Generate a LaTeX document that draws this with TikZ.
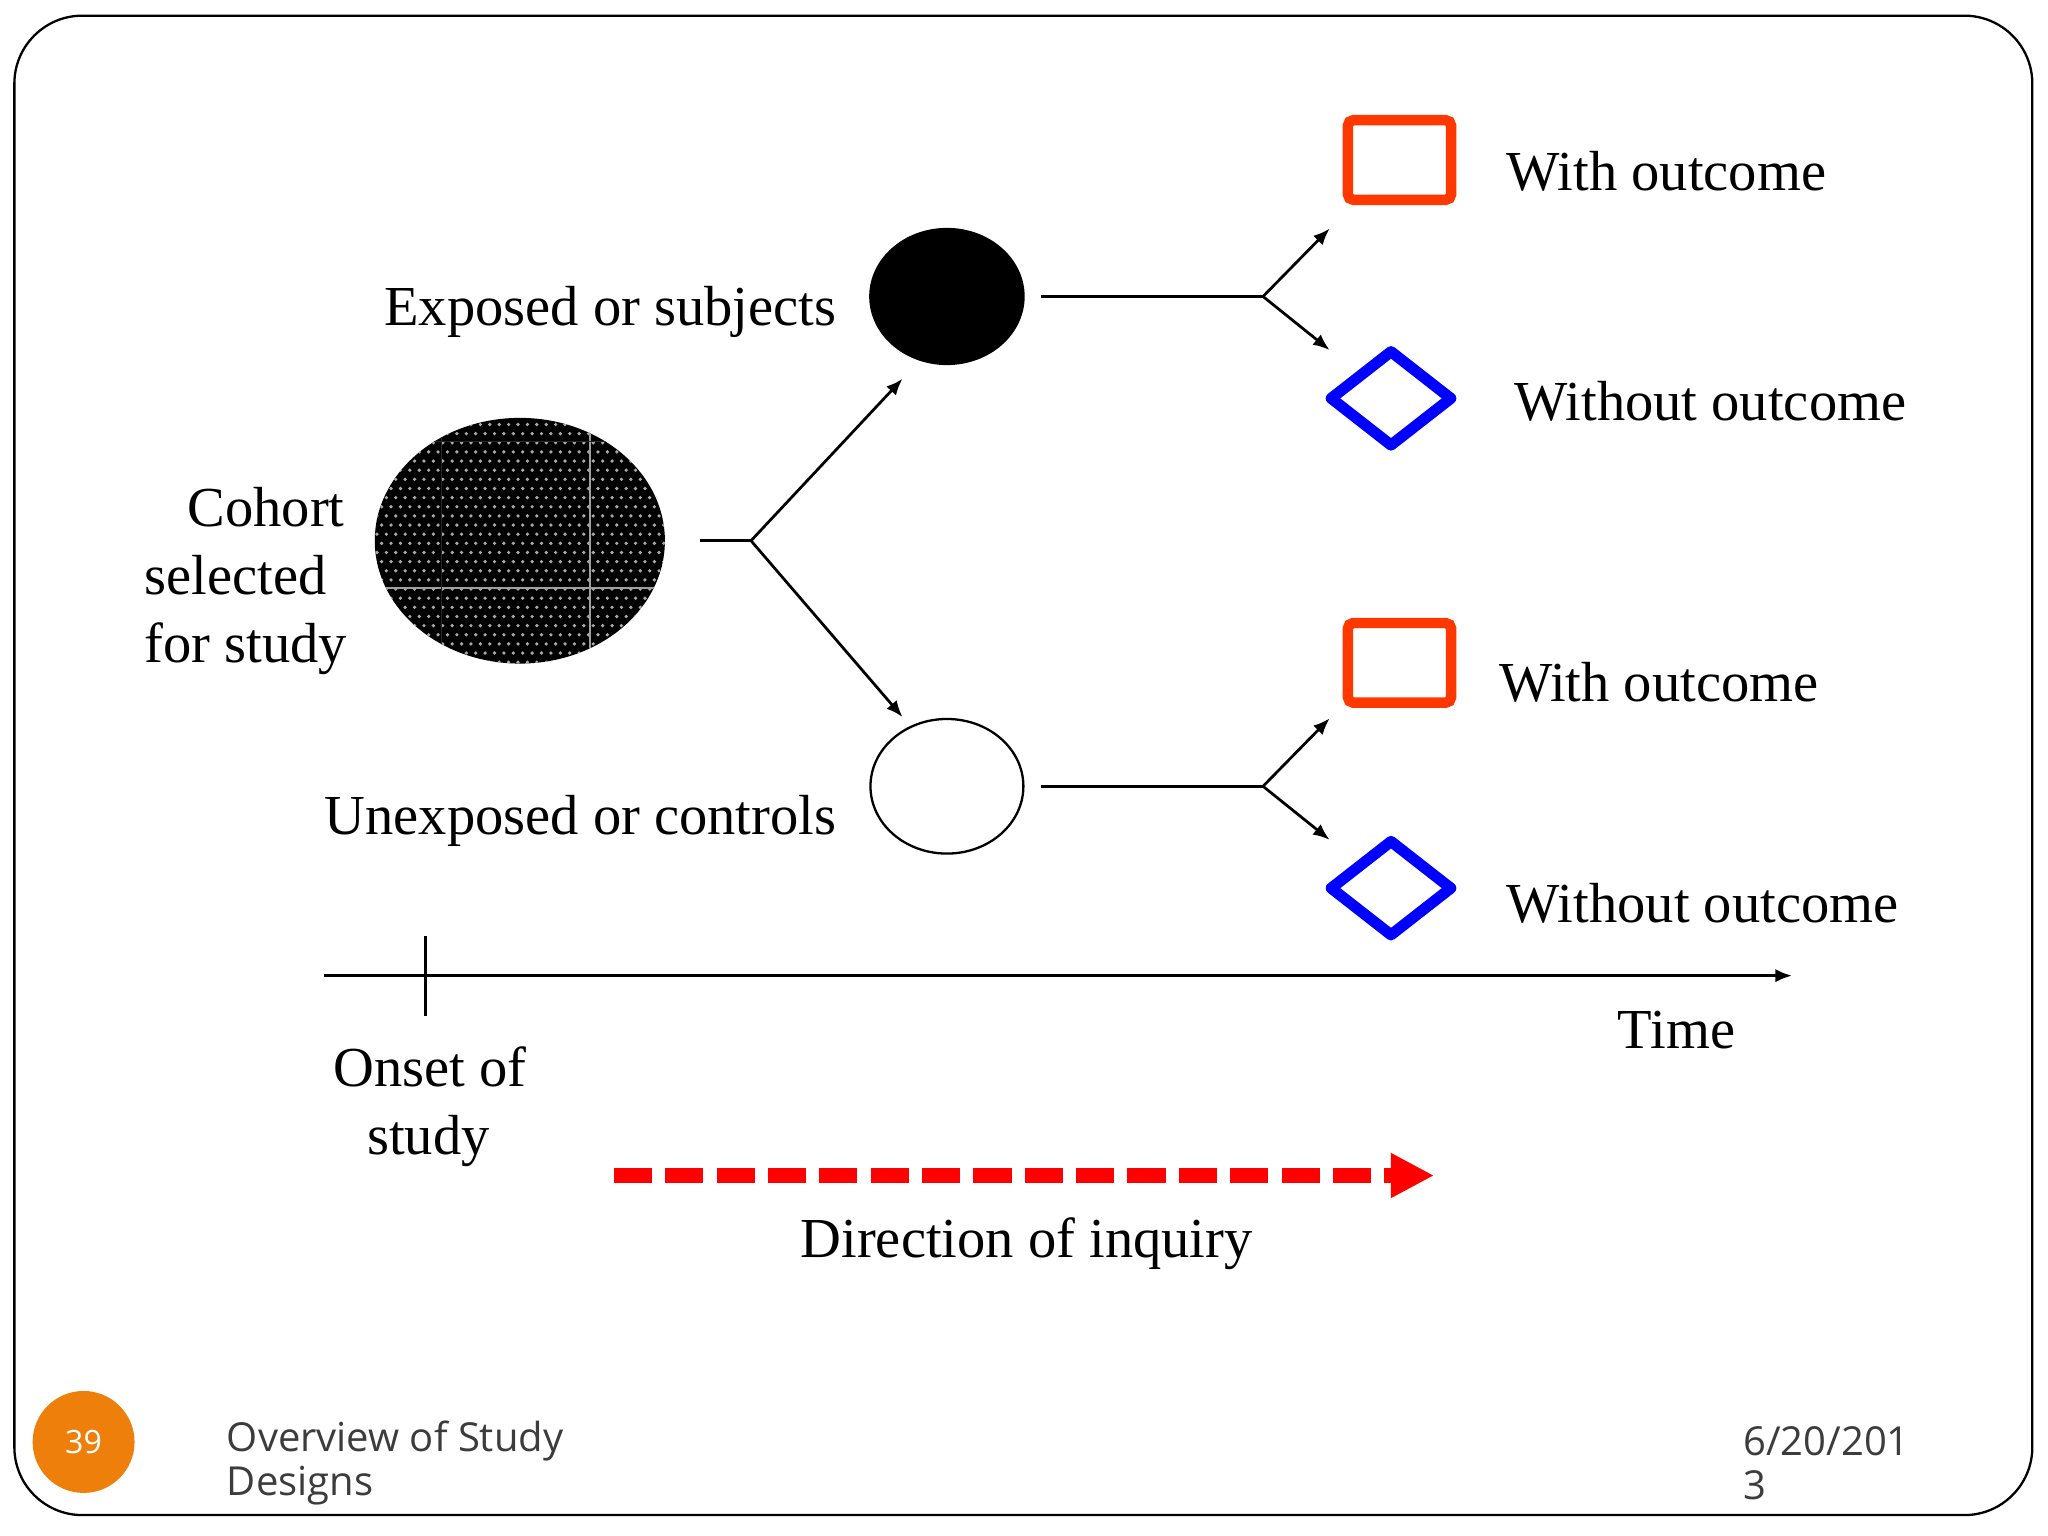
\documentclass[tikz,border=0pt]{standalone}
\usepackage{fontspec}
\setmainfont{Liberation Serif}
\newfontfamily\footfont{Open Sans}
\usetikzlibrary{arrows.meta,shapes.geometric}
\definecolor{boxred}{RGB}{255,56,0}
\definecolor{diablue}{RGB}{0,0,255}
\definecolor{slideorange}{RGB}{238,127,10}
\definecolor{foottext}{RGB}{60,60,60}
\definecolor{dotgray}{RGB}{170,170,170}
\begin{document}
\begin{tikzpicture}[x=0.01cm,y=-0.01cm,
  lbl/.style={font=\fontsize{12.3}{14.75}\selectfont, inner sep=0pt, anchor=base west},
  plainline/.style={line width=0.6pt},
  conn/.style={line width=0.6pt, -{Latex[length=3.6pt,width=2.9pt]}},
  outbox/.style={draw=boxred, line width=0.08cm, rectangle, rounded corners=1.2pt, minimum width=0.79cm, minimum height=0.61cm, inner sep=0pt},
  outdia/.style={draw=diablue, line width=0.085cm, diamond, line join=round, minimum width=0.95cm, minimum height=0.75cm, inner sep=0pt},
  foot/.style={font=\footfont\fontsize{8.7}{9.67}\selectfont, text=foottext, inner sep=0pt, anchor=base west, align=left}]
\useasboundingbox (0,0) rectangle (1568,1176);
\fill[white] (0,0) rectangle (1568,1176);
% slide frame
\draw[line width=0.5pt, rounded corners=0.52cm] (11,12) rectangle (1556,1160);

% cohort ellipse with dot texture
\node (cohort) [ellipse, fill=black, minimum width=2.22cm, minimum height=1.88cm, inner sep=0pt] at (398,414) {};
\begin{scope}
  \clip (398,414) ellipse [x radius=1.11cm, y radius=0.94cm];
  \foreach \j in {0,...,27} {
    \pgfmathsetmacro{\off}{mod(\j,2)*3.6}
    \foreach \i in {0,...,32} {
      \fill[dotgray] ({285+\off+7.2*\i},{318+7.0*\j}) circle[radius=0.4pt];
    }
  }
  \draw[gray!75, line width=0.45pt] (280,450) -- (520,450);
  \draw[gray!75, line width=0.45pt] (452,300) -- (452,520);
  \draw[gray!30!black, line width=0.35pt] (280,338) -- (520,338);
  \draw[gray!30!black, line width=0.35pt] (338,300) -- (338,520);
\end{scope}

% exposed / unexposed
\node (exp) [ellipse, fill=black, minimum width=1.19cm, minimum height=1.05cm, inner sep=0pt] at (725,227) {};
\node (unexp) [ellipse, draw=black, line width=0.5pt, fill=white, minimum width=1.17cm, minimum height=1.03cm, inner sep=0pt] at (725,602) {};

% outcome shapes
\node (sq1) [outbox] at (1071.5,122.5) {};
\node (di1) [outdia] at (1065,305) {};
\node (sq2) [outbox] at (1071.5,507.5) {};
\node (di2) [outdia] at (1065,680) {};

% connectors
\coordinate (cstart) at (536,414);
\coordinate (cfork) at (575,414);
\coordinate (tipexp) at (691,290);
\coordinate (tipunexp) at (691,549);
\draw[plainline] (cstart) -- (cfork);
\draw[conn] (cfork) -- (tipexp);
\draw[conn] (cfork) -- (tipunexp);

\coordinate (estart) at (797,227);
\coordinate (efork) at (967,227);
\coordinate (tipsq1) at (1018,175);
\coordinate (tipdi1) at (1018,268);
\draw[plainline] (estart) -- (efork);
\draw[conn] (efork) -- (tipsq1);
\draw[conn] (efork) -- (tipdi1);

\coordinate (ustart) at (797,602);
\coordinate (ufork) at (967,602);
\coordinate (tipsq2) at (1018,550);
\coordinate (tipdi2) at (1018,643);
\draw[plainline] (ustart) -- (ufork);
\draw[conn] (ufork) -- (tipsq2);
\draw[conn] (ufork) -- (tipdi2);

% time axis
\coordinate (ax0) at (248,747);
\coordinate (ax1) at (1372,747);
\coordinate (tk0) at (326,717);
\coordinate (tk1) at (326,778);
\draw[conn] (ax0) -- (ax1);
\draw[plainline] (tk0) -- (tk1);

% direction of inquiry
\coordinate (dq0) at (470,900);
\coordinate (dq1) at (1098,900);
\draw[red, line width=0.115cm, dash pattern=on 0.292cm off 0.101cm, -{Triangle[length=0.33cm,width=0.32cm]}] (dq0) -- (dq1);

% labels
\node[lbl] (lw1) at (1153,146) {With outcome};
\node[lbl] (lwo1) at (1159,322) {Without outcome};
\node[lbl] (lw2) at (1147,537) {With outcome};
\node[lbl] (lwo2) at (1153,706) {Without outcome};
\node[lbl, anchor=base east] (lexp) at (641,249) {Exposed or subjects};
\node[lbl, anchor=base east] (lunexp) at (641,639) {Unexposed or controls};
\node[lbl] (lc1) at (143,403) {Cohort};
\node[lbl] (lc2) at (110,455) {selected};
\node[lbl] (lc3) at (110,507) {for study};
\node[lbl] (ltime) at (1238,803) {Time};
\node[lbl, anchor=base] (lon1) at (329,832) {Onset of};
\node[lbl, anchor=base] (lon2) at (328,884) {study};
\node[lbl, anchor=base] (ldir) at (786,963) {Direction of inquiry};

% footer
\node (pg) [circle, fill=slideorange, minimum size=0.78cm, inner sep=0pt] at (64,1104) {\footfont\fontsize{7}{8}\selectfont\color{white}39};
\node[foot] (ftitle) at (173,1145) {Overview of Study\\Designs};
\node[foot] (fdate) at (1334,1148) {6/20/201\\3};
\end{tikzpicture}
\end{document}
